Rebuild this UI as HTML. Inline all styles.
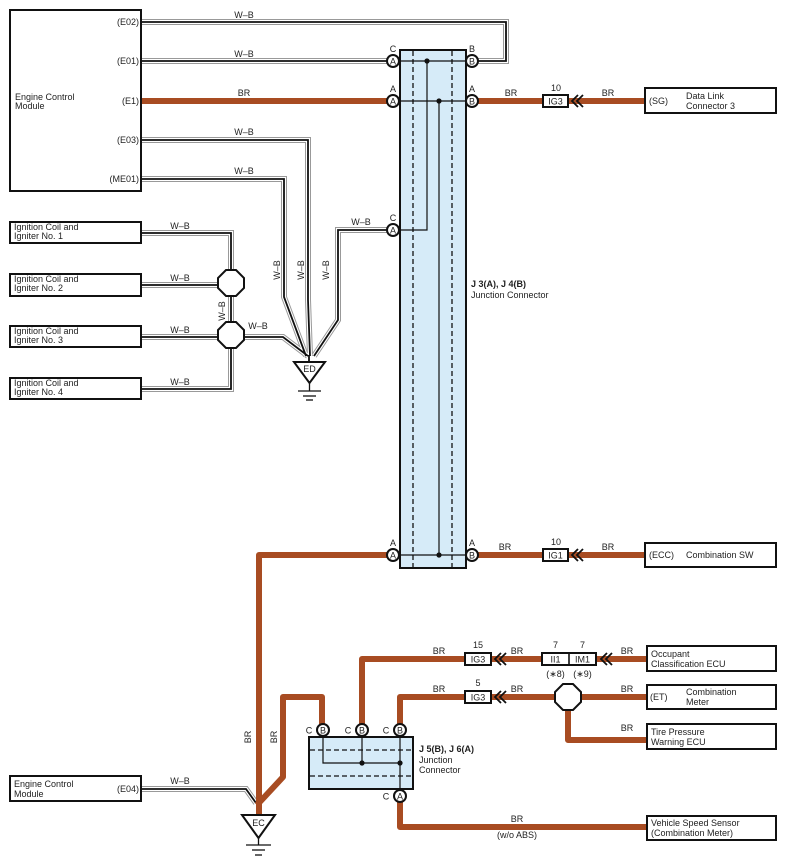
<!DOCTYPE html>
<html><head><meta charset="utf-8"><style>
html,body{margin:0;padding:0;background:#fff;}
svg{display:block;font-family:"Liberation Sans",sans-serif;}
text{font-size:9px;fill:#222;}
.wb1{fill:none;stroke:#999;stroke-width:6;}
.wb2{fill:none;stroke:#fff;stroke-width:4;}
.wb3{fill:none;stroke:#111;stroke-width:1.8;}
.br{fill:none;stroke:#a84c22;stroke-width:6;stroke-linejoin:round;}
.box{fill:#fff;stroke:#111;stroke-width:2;}
.pin{fill:#fff;stroke:#111;stroke-width:2;}
.thin{fill:none;stroke:#111;stroke-width:1.2;}
.dash{fill:none;stroke:#111;stroke-width:1.3;stroke-dasharray:5,3;}
.chev{fill:none;stroke:#111;stroke-width:1.8;}
</style></head><body>
<svg width="787" height="868" viewBox="0 0 787 868" xmlns="http://www.w3.org/2000/svg">
<g class="wb1"><path d="M141,22 H506 V61 H478"/><path d="M141,61 H388"/><path d="M141,140 H308 V300 L310,356"/><path d="M141,179 H284 V297 L306,356"/><path d="M388,230 H338 V320 L314,356"/><path d="M141,233 H231 V389 H141"/><path d="M141,285 H231"/><path d="M141,337 H283 L308,356"/><path d="M141,789 H246 L256,803"/></g>
<g class="wb2"><path d="M141,22 H506 V61 H478"/><path d="M141,61 H388"/><path d="M141,140 H308 V300 L310,356"/><path d="M141,179 H284 V297 L306,356"/><path d="M388,230 H338 V320 L314,356"/><path d="M141,233 H231 V389 H141"/><path d="M141,285 H231"/><path d="M141,337 H283 L308,356"/><path d="M141,789 H246 L256,803"/></g>
<g class="wb3"><path d="M141,22 H506 V61 H478"/><path d="M141,61 H388"/><path d="M141,140 H308 V300 L310,356"/><path d="M141,179 H284 V297 L306,356"/><path d="M388,230 H338 V320 L314,356"/><path d="M141,233 H231 V389 H141"/><path d="M141,285 H231"/><path d="M141,337 H283 L308,356"/><path d="M141,789 H246 L256,803"/></g>
<path d="M309,355 V362" class="wb3"/>
<g class="br">
<path d="M141,101 H388"/>
<path d="M478,101 H645"/>
<path d="M388,555 H259 V815"/>
<path d="M478,555 H645"/>
<path d="M257,805 L283,777 V697 H322 V726"/>
<path d="M362,726 V659 H647"/>
<path d="M400,726 V697 H647"/>
<path d="M568,697 V740 H647"/>
<path d="M400,800 V827 H647"/>
</g>
<rect x="400" y="50" width="66" height="518" fill="#d6ebf8" stroke="#111" stroke-width="2"/>
<line x1="413" y1="51" x2="413" y2="567" class="dash"/>
<line x1="452" y1="51" x2="452" y2="567" class="dash"/>
<g class="thin"><path d="M393,61 H472"/><path d="M393,101 H472"/><path d="M427,61 V230 H393"/><path d="M439,101 V555"/><path d="M393,555 H472"/></g>
<circle cx="427" cy="61" r="2.6" fill="#111"/><circle cx="439" cy="101" r="2.6" fill="#111"/><circle cx="439" cy="555" r="2.6" fill="#111"/>
<g class="pin"><circle cx="393" cy="61" r="6"/><circle cx="393" cy="101" r="6"/><circle cx="393" cy="230" r="6"/><circle cx="393" cy="555" r="6"/><circle cx="472" cy="61" r="6"/><circle cx="472" cy="101" r="6"/><circle cx="472" cy="555" r="6"/></g>
<g text-anchor="middle" font-size="9">
<text x="393" y="64.5">A</text><text x="393" y="104.5">A</text><text x="393" y="233.5">A</text><text x="393" y="558.5">A</text>
<text x="472" y="64.5">B</text><text x="472" y="104.5">B</text><text x="472" y="558.5">B</text>
<text x="393" y="52">C</text><text x="393" y="92">A</text><text x="393" y="221">C</text><text x="393" y="546">A</text>
<text x="472" y="52">B</text><text x="472" y="92">A</text><text x="472" y="546">A</text>
</g>
<text x="471" y="287" font-weight="bold">J 3(A), J 4(B)</text>
<text x="471" y="298">Junction Connector</text>
<rect x="10" y="10" width="131" height="181" class="box"/>
<text x="15" y="100">Engine Control</text><text x="15" y="109">Module</text>
<g text-anchor="end"><text x="139" y="25">(E02)</text><text x="139" y="64">(E01)</text><text x="139" y="104">(E1)</text><text x="139" y="143">(E03)</text><text x="139" y="182">(ME01)</text></g>
<g text-anchor="middle"><text x="244" y="18">W–B</text><text x="244" y="57">W–B</text><text x="244" y="96">BR</text><text x="244" y="135">W–B</text><text x="244" y="174">W–B</text><text x="361" y="225">W–B</text>
<text x="180" y="229">W–B</text><text x="180" y="281">W–B</text><text x="180" y="333">W–B</text><text x="180" y="385">W–B</text><text x="258" y="329">W–B</text>
<text x="180" y="784">W–B</text></g>
<g font-size="9"><text transform="translate(280,270) rotate(-90)" text-anchor="middle">W–B</text><text transform="translate(304,270) rotate(-90)" text-anchor="middle">W–B</text><text transform="translate(329,270) rotate(-90)" text-anchor="middle">W–B</text><text transform="translate(225,311) rotate(-90)" text-anchor="middle">W–B</text>
<text transform="translate(251,737) rotate(-90)" text-anchor="middle">BR</text><text transform="translate(277,737) rotate(-90)" text-anchor="middle">BR</text></g>
<rect x="10" y="222" width="131" height="21" class="box"/><text x="14" y="230">Ignition Coil and</text><text x="14" y="239">Igniter No. 1</text>
<rect x="10" y="274" width="131" height="22" class="box"/><text x="14" y="282">Ignition Coil and</text><text x="14" y="291">Igniter No. 2</text>
<rect x="10" y="326" width="131" height="21" class="box"/><text x="14" y="334">Ignition Coil and</text><text x="14" y="343">Igniter No. 3</text>
<rect x="10" y="378" width="131" height="21" class="box"/><text x="14" y="386">Ignition Coil and</text><text x="14" y="395">Igniter No. 4</text>
<g class="pin"><polygon points="226,270 236,270 244,278 244,288 236,296 226,296 218,288 218,278"/><polygon points="226,322 236,322 244,330 244,340 236,348 226,348 218,340 218,330"/></g>
<polygon points="294,362 325,362 309.5,383" class="pin"/><text x="309.5" y="372" text-anchor="middle">ED</text>
<g stroke="#111" stroke-width="1.3"><line x1="309.5" y1="383" x2="309.5" y2="391"/><line x1="298" y1="391" x2="321" y2="391"/><line x1="303" y1="396" x2="316" y2="396"/><line x1="306" y1="400" x2="313" y2="400"/></g>
<rect x="543" y="95" width="25" height="12" class="box" stroke-width="1.6"/><text x="555.5" y="104.5" text-anchor="middle">IG3</text><text x="556" y="91" text-anchor="middle">10</text>
<path d="M578,95 L572,101 L578,107 M583,95 L577,101 L583,107" class="chev"/>
<text x="511" y="96" text-anchor="middle">BR</text><text x="608" y="96" text-anchor="middle">BR</text>
<rect x="645" y="88" width="131" height="25" class="box"/><text x="649" y="104">(SG)</text><text x="686" y="99">Data Link</text><text x="686" y="109">Connector 3</text>
<rect x="543" y="549" width="25" height="12" class="box" stroke-width="1.6"/><text x="555.5" y="558.5" text-anchor="middle">IG1</text><text x="556" y="545" text-anchor="middle">10</text>
<path d="M578,549 L572,555 L578,561 M583,549 L577,555 L583,561" class="chev"/>
<text x="505" y="550" text-anchor="middle">BR</text><text x="608" y="550" text-anchor="middle">BR</text>
<rect x="645" y="543" width="131" height="24" class="box"/><text x="649" y="558">(ECC)</text><text x="686" y="558">Combination SW</text>
<rect x="309" y="737" width="104" height="52" fill="#d6ebf8" stroke="#111" stroke-width="2"/>
<line x1="310" y1="750" x2="412" y2="750" class="dash"/><line x1="310" y1="776" x2="412" y2="776" class="dash"/>
<g class="thin"><path d="M323,730 V763 H400"/><path d="M362,730 V763"/><path d="M400,730 V796"/></g>
<circle cx="362" cy="763" r="2.6" fill="#111"/><circle cx="400" cy="763" r="2.6" fill="#111"/>
<g class="pin"><circle cx="323" cy="730" r="6"/><circle cx="362" cy="730" r="6"/><circle cx="400" cy="730" r="6"/><circle cx="400" cy="796" r="6"/></g>
<g text-anchor="middle"><text x="323" y="733.5">B</text><text x="362" y="733.5">B</text><text x="400" y="733.5">B</text><text x="400" y="799.5">A</text></g>
<text x="309" y="733.5" text-anchor="middle">C</text><text x="348" y="733.5" text-anchor="middle">C</text><text x="386" y="733.5" text-anchor="middle">C</text><text x="386" y="799.5" text-anchor="middle">C</text>
<text x="419" y="752" font-weight="bold">J 5(B), J 6(A)</text><text x="419" y="763">Junction</text><text x="419" y="773">Connector</text>
<rect x="465" y="653" width="26" height="12" class="box" stroke-width="1.6"/><text x="478" y="662.5" text-anchor="middle">IG3</text><text x="478" y="648" text-anchor="middle">15</text>
<path d="M501,653 L495,659 L501,665 M506,653 L500,659 L506,665" class="chev"/>
<rect x="542" y="653" width="54" height="12" class="box" stroke-width="1.6"/><line x1="569" y1="653" x2="569" y2="665" stroke="#111" stroke-width="1.6"/>
<text x="555.5" y="662.5" text-anchor="middle">II1</text><text x="582.5" y="662.5" text-anchor="middle">IM1</text>
<text x="555.5" y="648" text-anchor="middle">7</text><text x="582.5" y="648" text-anchor="middle">7</text>
<text x="555.5" y="677" text-anchor="middle">(∗8)</text><text x="582.5" y="677" text-anchor="middle">(∗9)</text>
<path d="M607,653 L601,659 L607,665 M612,653 L606,659 L612,665" class="chev"/>
<text x="439" y="654" text-anchor="middle">BR</text><text x="517" y="654" text-anchor="middle">BR</text><text x="627" y="654" text-anchor="middle">BR</text>
<rect x="465" y="691" width="26" height="12" class="box" stroke-width="1.6"/><text x="478" y="700.5" text-anchor="middle">IG3</text><text x="478" y="686" text-anchor="middle">5</text>
<path d="M501,691 L495,697 L501,703 M506,691 L500,697 L506,703" class="chev"/>
<text x="439" y="692" text-anchor="middle">BR</text><text x="517" y="692" text-anchor="middle">BR</text><text x="627" y="692" text-anchor="middle">BR</text><text x="627" y="731" text-anchor="middle">BR</text>
<polygon points="563,684 573,684 581,692 581,702 573,710 563,710 555,702 555,692" class="pin"/>
<rect x="647" y="646" width="129" height="25" class="box"/><text x="651" y="657">Occupant</text><text x="651" y="667">Classification ECU</text>
<rect x="647" y="685" width="129" height="24" class="box"/><text x="650" y="700">(ET)</text><text x="686" y="695">Combination</text><text x="686" y="705">Meter</text>
<rect x="647" y="724" width="129" height="25" class="box"/><text x="651" y="735">Tire Pressure</text><text x="651" y="745">Warning ECU</text>
<text x="517" y="822" text-anchor="middle">BR</text><text x="517" y="838" text-anchor="middle">(w/o ABS)</text>
<rect x="647" y="816" width="129" height="24" class="box"/><text x="651" y="826">Vehicle Speed Sensor</text><text x="651" y="836">(Combination Meter)</text>
<rect x="10" y="776" width="131" height="25" class="box"/><text x="14" y="787">Engine Control</text><text x="14" y="797">Module</text><text x="139" y="792" text-anchor="end">(E04)</text>
<polygon points="242,815 275,815 258.5,838" class="pin"/><text x="258.5" y="826" text-anchor="middle">EC</text>
<g stroke="#111" stroke-width="1.3"><line x1="258.5" y1="838" x2="258.5" y2="845"/><line x1="246" y1="845" x2="271" y2="845"/><line x1="252" y1="850" x2="265" y2="850"/><line x1="255" y1="855" x2="262" y2="855"/></g>
</svg>
</body></html>
